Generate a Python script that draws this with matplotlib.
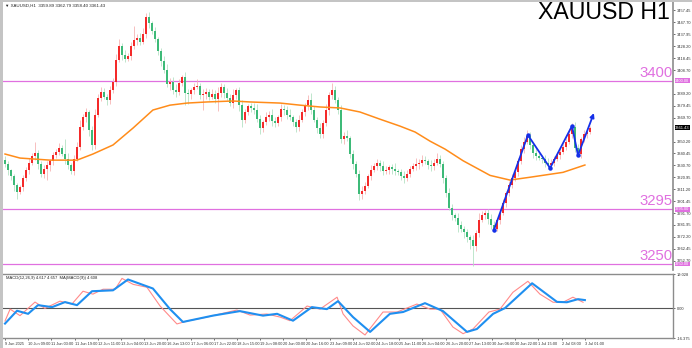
import numpy as np
import matplotlib.pyplot as plt
from matplotlib.transforms import blended_transform_factory
from matplotlib.patches import Rectangle

plt.rcParams['font.family'] = ['Liberation Sans', 'DejaVu Sans']

# hourly closes (one every ~3 px)
closes = [
    3332, 3327, 3322, 3315, 3309, 3313, 3320, 3327, 3333, 3338, 3341, 3332, 3324, 3328,
    3331, 3334, 3339, 3342, 3345, 3340, 3336, 3331, 3326, 3336, 3346, 3362, 3370, 3374,
    3360, 3347, 3372, 3386, 3391, 3387, 3384, 3392, 3399, 3417, 3428, 3421, 3418, 3420,
    3428, 3433, 3435, 3432, 3438, 3452, 3447, 3441, 3434, 3424, 3416, 3409, 3397, 3399,
    3392, 3391, 3398, 3403, 3390, 3389, 3392, 3395, 3396, 3388, 3389, 3391, 3387, 3389,
    3385, 3390, 3395, 3390, 3386, 3382, 3388, 3392, 3380, 3368, 3374, 3379, 3378, 3376,
    3369, 3361, 3366, 3370, 3372, 3367, 3365, 3370, 3377, 3376, 3372, 3370, 3366, 3362,
    3368, 3374, 3380, 3384, 3376, 3368, 3361, 3356, 3365, 3376, 3388, 3392, 3384, 3376,
    3352, 3355, 3353, 3340, 3332, 3324, 3307, 3310, 3314, 3322, 3327, 3330, 3333, 3330,
    3326, 3327, 3329, 3328, 3326, 3325, 3322, 3320, 3324, 3328, 3330, 3332, 3333, 3335,
    3334, 3331, 3330, 3333, 3336, 3332, 3320, 3308, 3296, 3290, 3288, 3282, 3279, 3276,
    3272, 3270, 3265, 3275, 3286, 3290, 3292, 3287, 3282, 3279, 3286, 3292, 3300, 3308,
    3315, 3320, 3325, 3334, 3344, 3350, 3355, 3347, 3341, 3338, 3337, 3336, 3333, 3331,
    3333, 3336, 3339, 3342, 3346, 3350, 3356, 3362, 3345, 3340, 3352, 3356, 3358, 3361,
]
first_open = 3335
wick_up = [
    3, 2, 1, 2, 1, 2, 3, 2, 4, 3, 9, 2, 2, 3,
    3, 2, 3, 2, 4, 2, 12, 5, 2, 3, 4, 6, 3, 4,
    2, 3, 5, 3, 4, 3, 2, 4, 3, 5, 6, 3, 4, 3,
    4, 12, 3, 4, 5, 3, 4, 2, 3, 2, 3, 4, 5, 3,
    4, 5, 3, 2, 4, 3, 2, 3, 5, 2, 4, 3, 2, 4,
    3, 5, 3, 2, 4, 3, 5, 2, 3, 4, 3, 2, 3, 4,
    5, 3, 2, 4, 3, 5, 3, 2, 4, 3, 3, 5, 2, 3,
    4, 3, 2, 4, 6, 3, 2, 4, 3, 5, 3, 6, 4, 3,
    4, 3, 5, 2, 3, 2, 3, 4, 3, 2, 4, 3, 3, 2,
    4, 3, 2, 3, 5, 2, 3, 4, 3, 2, 3, 5, 3, 4,
    3, 2, 4, 3, 5, 3, 2, 3, 4, 3, 2, 4, 3, 2,
    3, 2, 4, 3, 6, 3, 2, 3, 4, 3, 2, 3, 3, 2,
    3, 4, 2, 3, 3, 4, 5, 3, 2, 4, 3, 2, 3, 4,
    3, 2, 3, 4, 2, 3, 4, 3, 4, 3, 2, 4, 3, 2,
]
wick_dn = [
    3, 4, 3, 5, 6, 2, 3, 2, 3, 2, 3, 4, 3, 4,
    9, 5, 3, 2, 3, 2, 4, 3, 2, 3, 2, 3, 2, 4,
    5, 4, 3, 2, 3, 2, 4, 3, 2, 3, 2, 4, 3, 2,
    3, 2, 4, 3, 2, 3, 4, 3, 2, 3, 4, 3, 2, 5,
    3, 4, 3, 2, 10, 8, 4, 3, 2, 3, 12, 4, 3, 2,
    3, 10, 3, 4, 2, 3, 4, 3, 5, 6, 3, 2, 4, 3,
    3, 5, 3, 2, 3, 4, 3, 2, 3, 4, 3, 2, 3, 4,
    3, 2, 3, 4, 3, 2, 4, 3, 3, 2, 4, 3, 2, 3,
    3, 4, 2, 3, 4, 3, 5, 4, 3, 2, 3, 2, 3, 4,
    3, 2, 3, 4, 3, 2, 3, 4, 2, 3, 2, 3, 4, 3,
    2, 3, 4, 3, 2, 3, 4, 3, 2, 4, 3, 6, 3, 5,
    4, 8, 17, 4, 3, 2, 3, 4, 3, 3, 2, 3, 2, 3,
    2, 3, 2, 3, 2, 3, 2, 3, 4, 3, 2, 3, 4, 3,
    2, 3, 2, 3, 2, 3, 2, 3, 3, 2, 3, 2, 3, 2,
]

# orange moving average (bar index, price)
ma_x = [0, 5, 15, 24, 29.3, 36, 42.7, 49.3, 55, 60.7, 67.3, 76, 81.7, 91.7, 98.3,
        105, 111.7, 118.3, 125, 131.7, 136.7, 141.7, 146.7, 152.7, 161.7, 168.3,
        175, 186, 193.3]
ma_y = [3340, 3336.7, 3335, 3335, 3340, 3347.4, 3361.3, 3376, 3380, 3381.7, 3382.6,
        3383.4, 3382.6, 3381.7, 3380, 3378.5, 3377.7, 3374.4, 3368.5, 3362.8, 3358,
        3350.5, 3344, 3334.5, 3322.5, 3318.7, 3321, 3325, 3331]

# blue zigzag drawn on the chart
zig_x = [163, 174.3, 181.7, 189, 191, 196.3]
zig_y = [3278, 3355.5, 3328.5, 3363, 3339, 3373.5]

levels = [3400, 3295, 3250]
last_price = 3361.43

price_ticks = [3252.70, 3262.45, 3272.20, 3281.95, 3291.70, 3301.45, 3311.20, 3320.95,
               3330.70, 3340.45, 3350.20, 3369.70, 3379.45, 3389.20,
               3408.70, 3418.45, 3428.20, 3437.95, 3447.70, 3457.45]

# MACD panel lines (bar index, value)
blue_x = [0, 4, 7.7, 11, 15.7, 20, 24, 29, 36, 41, 49.3, 55, 59.3, 69.3, 78.3, 86,
          90.7, 96, 102.3, 107.3, 111, 116, 121.7, 128.3, 132.7, 140, 146, 154, 157.3,
          162.7, 166.7, 175.7, 184, 187.3, 191, 193.3]
blue_y = [-8.4, -1.3, -3.0, 1.8, 0.7, 3.5, 1.8, 9.5, 10.0, 16.0, 11.0, -0.4, -7.5,
          -4.0, -1.5, -4.0, -3.0, -6.8, 0.7, -0.4, 4.0, -4.8, -13.0, -3.0, -2.0, 2.9,
          -1.5, -13.0, -11.4, -3.0, 0.2, 13.9, 3.6, 3.4, 5.1, 4.6]
red_x = [0, 1.7, 5, 10, 13.3, 18.3, 22.3, 26, 29.3, 32.7, 36.7, 39, 42.7, 47.3, 51.7,
         57.3, 60.7, 67.3, 77.3, 81.7, 87.3, 91.7, 95, 100.7, 105, 110.7, 112.7, 116,
         120, 126, 130.7, 137.3, 141.7, 145, 149.3, 152.7, 156, 161.3, 165, 169.3,
         174.3, 178.3, 182.7, 186, 189.3, 192.7]
red_y = [-7.0, -0.4, -4.0, 3.5, 0.0, 4.0, 2.4, 9.5, 7.9, 10.6, 10.6, 16.6, 13.3, 11.7,
         1.3, -8.6, -7.0, -4.8, -0.9, -3.7, -3.1, -4.8, -6.8, 1.3, -0.4, 6.2, -3.1,
         -9.7, -14.7, -2.0, -2.0, 2.4, -0.4, -0.4, -10.3, -14.0, -11.4, -2.0, -0.4,
         8.9, 15.0, 7.9, 3.4, 3.4, 6.2, 3.4]

date_labels = ["9 Jun 2025", "10 Jun 09:00", "11 Jun 03:00", "11 Jun 19:00",
               "12 Jun 11:00", "13 Jun 04:00", "13 Jun 20:00", "16 Jun 13:00",
               "17 Jun 06:00", "17 Jun 22:00", "18 Jun 15:00", "19 Jun 08:00",
               "20 Jun 00:00", "20 Jun 16:00", "23 Jun 09:00", "24 Jun 02:00",
               "24 Jun 18:00", "25 Jun 11:00", "26 Jun 04:00", "26 Jun 20:00",
               "27 Jun 13:00", "30 Jun 06:00", "30 Jun 22:00", "1 Jul 15:00",
               "2 Jul 08:00", "3 Jul 01:00"]

W, H = 692, 348
fig = plt.figure(figsize=(W / 100, H / 100), dpi=100, facecolor='white')
ax = fig.add_axes([3 / W, 1 - 270 / H, 670 / W, 268 / H])
ax2 = fig.add_axes([3 / W, 1 - 338 / H, 670 / W, 64 / H])

# gray window frame
fig.patches.append(Rectangle((0, 0), 3 / W, 1, transform=fig.transFigure,
                             facecolor='#c4c4c4', edgecolor='none'))
fig.patches.append(Rectangle((0, 1 - 2 / H), 1, 2 / H, transform=fig.transFigure,
                             facecolor='#c4c4c4', edgecolor='none'))

# candles
closes = np.array(closes, dtype=float)
opens = np.concatenate([[first_open], closes[:-1]])
idx = np.arange(len(closes))
highs = np.maximum(opens, closes) + np.array(wick_up)
lows = np.minimum(opens, closes) - np.array(wick_dn)
up = closes >= opens
ax.vlines(idx[up], lows[up], highs[up], color='#f6b4b4', lw=0.6, zorder=2)
ax.vlines(idx[~up], lows[~up], highs[~up], color='#b4e2c4', lw=0.6, zorder=2)
body = np.maximum(np.abs(closes - opens), 0.4)
ax.bar(idx[up], body[up], bottom=opens[up], width=0.6, color='#f42a2a', zorder=3)
ax.bar(idx[~up], body[~up], bottom=closes[~up], width=0.6, color='#3dba78', zorder=3)

ax.plot(ma_x, ma_y, color='#ff8c1a', lw=1.1, zorder=4)

for lv in levels:
    ax.axhline(lv, color='#e070e0', lw=0.9, zorder=1)
trans = blended_transform_factory(ax.transAxes, ax.transData)
for lv in levels:
    ax.text(0.999, lv + 0.8, str(lv), transform=trans, ha='right', va='bottom',
            fontsize=10.7, color='#e070e0', zorder=5)

ax.plot(zig_x[:-1], zig_y[:-1], color='#1530e8', lw=1.3, marker='o', ms=2.2, zorder=6)
ax.annotate('', xy=(zig_x[-1], zig_y[-1]), xytext=(zig_x[-2], zig_y[-2]),
            arrowprops=dict(arrowstyle='-|>', color='#1530e8', lw=1.3,
                            mutation_scale=6, shrinkA=0, shrinkB=0), zorder=6)

ax.set_xlim(-0.67, 222.67)
ax.set_ylim(3245.1, 3464.4)
ax.yaxis.tick_right()
ax.set_yticks(price_ticks)
ax.set_yticklabels([f"{t:.2f}" for t in price_ticks])
ax.tick_params(axis='y', labelsize=2.9, length=1.5, pad=1, colors='#333333',
               width=0.5)
ax.set_xticks([])
for s in ['left', 'top', 'bottom']:
    ax.spines[s].set_visible(False)
ax.spines['right'].set_color('#8c8c8c')
ax.spines['right'].set_linewidth(1.2)

for lv in levels:
    ax.text(1.003, lv, f"{lv:.2f}", transform=trans, ha='left', va='center',
            fontsize=2.9, color='white', zorder=7, clip_on=False,
            bbox=dict(boxstyle='square,pad=0.12', fc='#e070e0', ec='none'))
ax.text(1.003, last_price, f"{last_price:.2f}", transform=trans, ha='left',
        va='center', fontsize=2.9, color='white', zorder=7, clip_on=False,
        bbox=dict(boxstyle='square,pad=0.12', fc='black', ec='none'))

fig.text(670 / W, 1 - 1 / H, "XAUUSD H1", ha='right', va='top', fontsize=16.7,
         color='black')
fig.text(5 / W, 1 - 4 / H, "\u25bc XAUUSD,H1  3359.89 3362.79 3358.40 3361.43",
         ha='left', va='top', fontsize=3.2, color='#222222')

# MACD panel
ax2.axhline(0, color='#555555', lw=0.8, zorder=1)
ax2.plot(red_x, red_y, color='#ff8a8a', lw=0.8, zorder=2)
ax2.plot(blue_x, blue_y, color='#1f8ff0', lw=1.5, zorder=3)
ax2.set_xlim(-0.67, 222.67)
ax2.set_ylim(-16.375, 19.028)
ax2.yaxis.tick_right()
ax2.set_yticks([19.028, 0, -16.375])
ax2.set_yticklabels(["19.028", "0.00", "-16.375"])
ax2.tick_params(axis='y', labelsize=2.9, length=1.5, pad=1, colors='#333333',
                width=0.5)
ax2.set_xticks(np.arange(len(date_labels)) * 7.73)
ax2.set_xticklabels(date_labels, ha='left')
ax2.tick_params(axis='x', labelsize=2.8, length=1.5, pad=1.5, colors='#333333',
                width=0.5)
ax2.spines['left'].set_visible(False)
for s in ['top', 'right', 'bottom']:
    ax2.spines[s].set_color('#8c8c8c')
    ax2.spines[s].set_linewidth(1.0)
ax2.text(0.004, 0.97, "MACD(12,26,9) 4.617 4.657  MA(MACD(9)) 4.608",
         transform=ax2.transAxes, ha='left', va='top', fontsize=3.0, color='#222222')

fig.savefig('out.png', dpi=100, facecolor='white')
